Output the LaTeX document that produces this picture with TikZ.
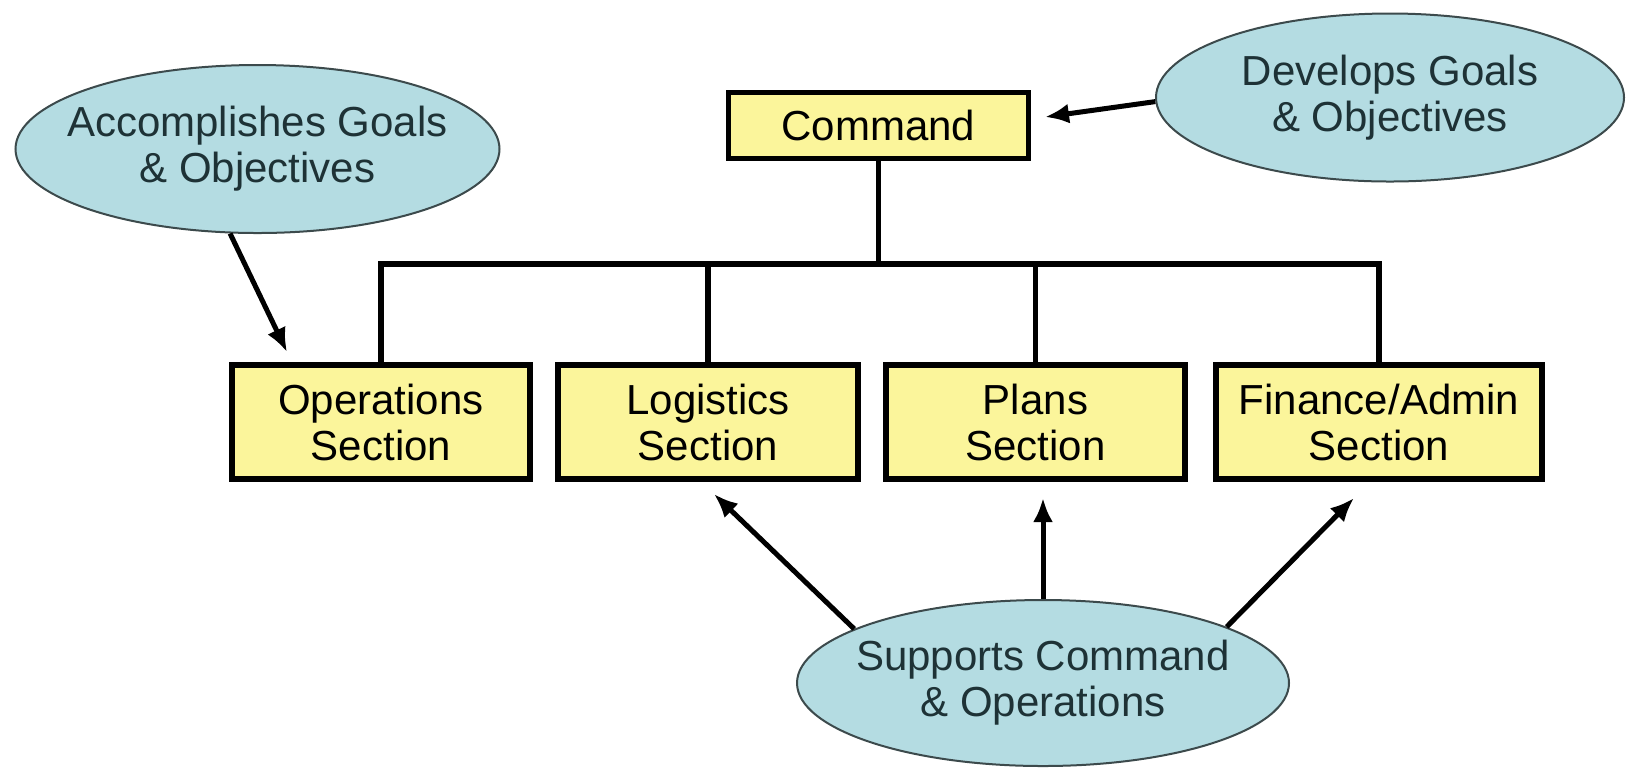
\documentclass[tikz,border=0pt]{standalone}
\usepackage{fontspec}
\setmainfont{Liberation Sans}
\usetikzlibrary{shapes.geometric,arrows.meta,calc}
\definecolor{boxfill}{HTML}{FBF59B}
\definecolor{ellfill}{HTML}{B4DCE2}
\definecolor{elldraw}{HTML}{3C4A4C}
\definecolor{elltext}{HTML}{1E3236}
\newcommand{\zl}[1]{\makebox[0pt][c]{#1}}
\tikzset{
  sectbox/.style={draw=black, line width=2.6pt, fill=boxfill, inner sep=0pt,
    minimum height=57pt, align=center, font=\fontsize{21}{23}\selectfont},
  goalell/.style={ellipse, draw=elldraw, line width=1pt, fill=ellfill, inner sep=0pt,
    align=center, text=elltext, font=\fontsize{21}{23}\selectfont},
  link/.style={line width=2.6pt, black},
  arr/.style={line width=2.5pt, black, -{Latex[length=12pt,width=10pt]}}
}
\begin{document}
\begin{tikzpicture}[x=0.5pt,y=-0.5pt]
\useasboundingbox[fill=white] (0,0) rectangle (1627,768);
% boxes
\node[sectbox, minimum width=150pt, minimum height=33pt] (cmd) at (878.5,125.5) {Command};
\node[sectbox, minimum width=149pt] (ops) at (381,422) {Operations\\Section};
\node[sectbox, minimum width=150pt] (log) at (708,422) {Logistics\\Section};
\node[sectbox, minimum width=149.5pt] (plans) at (1035.5,422) {Plans\\Section};
\node[sectbox, minimum width=163pt] (fin) at (1379,422) {Finance/Admin\\Section};
% ellipses
\node[goalell, minimum width=242pt, minimum height=84pt] (acc) at (257.5,149) {\zl{Accomplishes Goals}\\\zl{\& Objectives}};
\node[goalell, minimum width=234pt, minimum height=84pt] (dev) at (1390,97.5) {\zl{Develops Goals}\\\zl{\& Objectives}};
\node[goalell, minimum width=246pt, minimum height=83pt] (sup) at (1043,683) {\zl{Supports Command}\\\zl{\& Operations}};
% tree
\coordinate (bus) at (878.5,264);
\draw[link] (cmd.south) -- (bus);
\draw[link] (ops.north) |- (bus) -| (fin.north);
\draw[link] (log.north) -- (log.north |- bus);
\draw[link] (plans.north) -- (plans.north |- bus);
% arrow tips
\coordinate (accTip) at (287,352);
\coordinate (devTip) at (1045,117);
\coordinate (logTip) at (714,494);
\coordinate (plansTip) at (1043,498);
\coordinate (finTip) at (1354,498);
\draw[arr] (acc.-108.5) -- (accTip);
\draw[arr] (dev.181.8) -- (devTip);
\draw[arr] (sup.164.6) -- (logTip);
\draw[arr] (sup.north) -- (plansTip);
\draw[arr] (sup.17.1) -- (finTip);
\end{tikzpicture}
\end{document}
